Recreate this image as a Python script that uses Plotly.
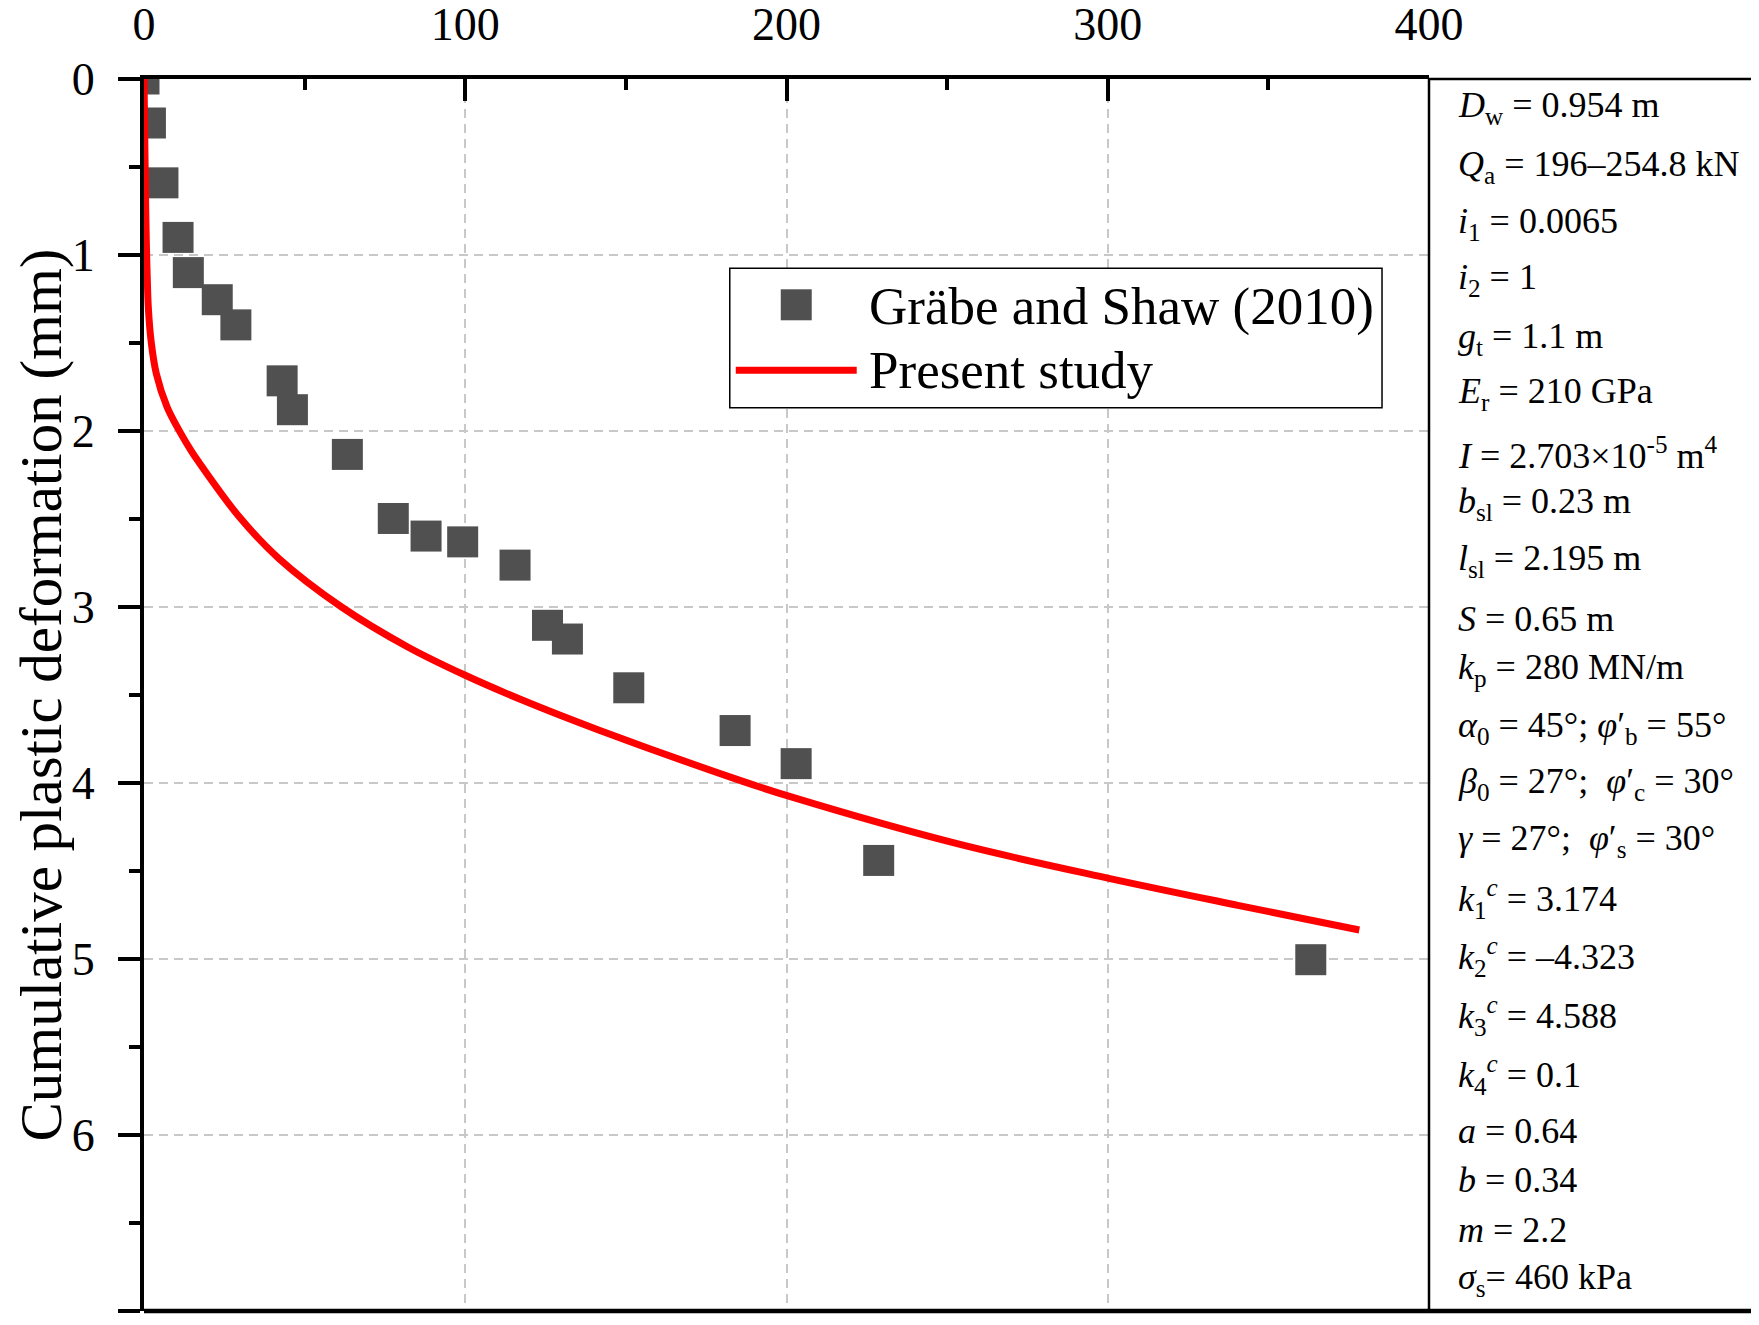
import plotly.graph_objects as go

# ---------------- data ----------------
# Gräbe and Shaw (2010) measurements
exp_cycles = [0, 2.0, 5.9, 10.6, 13.8, 22.8, 28.6, 43.0, 46.2, 63.3, 77.6, 87.8, 99.2,
              115.5, 125.6, 131.8, 150.9, 184.0, 203.0, 228.7, 363.2]
exp_deform = [0.0, 0.25, 0.59, 0.90, 1.10, 1.254, 1.397, 1.715, 1.879, 2.133, 2.497,
              2.597, 2.630, 2.762, 3.104, 3.182, 3.459, 3.702, 3.890, 4.440, 5.004]

# Present study (curve)
model_cycles = [0, 0.25, 0.5, 0.75, 1.0, 1.34, 2.18, 3.83, 7.2, 11.5, 14.6, 16.6,
                29.7, 42.0, 61.5, 82.1, 100.0, 117.9, 141.7, 185.5, 200.7, 253.1,
                300.7, 340.5, 378.3]
model_deform = [0.0, 0.35, 0.7, 0.95, 1.12, 1.295, 1.485, 1.674, 1.864, 2.015, 2.11, 2.165,
                2.489, 2.725, 3.0, 3.227, 3.388, 3.53, 3.70, 3.985, 4.075, 4.345,
                4.543, 4.695, 4.835]

x_tick_vals = [0, 100, 200, 300, 400]
y_tick_vals = [0, 1, 2, 3, 4, 5, 6, 7]

y_title = "Cumulative plastic deformation (mm)"
legend_labels = ["Gräbe and Shaw (2010)", "Present study"]

param_labels = [
    "<i>D</i><sub>w</sub> = 0.954 m",
    "<i>Q</i><sub>a</sub> = 196–254.8 kN",
    "<i>i</i><sub>1</sub> = 0.0065",
    "<i>i</i><sub>2</sub> = 1",
    "<i>g</i><sub>t</sub> = 1.1 m",
    "<i>E</i><sub>r</sub> = 210 GPa",
    "<i>I</i> = 2.703×10<sup>-5</sup> m<sup>4</sup>",
    "<i>b</i><sub>sl</sub> = 0.23 m",
    "<i>l</i><sub>sl</sub> = 2.195 m",
    "<i>S</i> = 0.65 m",
    "<i>k</i><sub>p</sub> = 280 MN/m",
    "<i>α</i><sub>0</sub> = 45°; <i>φ</i>′<sub>b</sub> = 55°",
    "<i>β</i><sub>0</sub> = 27°;  <i>φ</i>′<sub>c</sub> = 30°",
    "<i>γ</i> = 27°;  <i>φ</i>′<sub>s</sub> = 30°",
    "<i>k</i><sub>1</sub><sup><i>c</i></sup> = 3.174",
    "<i>k</i><sub>2</sub><sup><i>c</i></sup> = –4.323",
    "<i>k</i><sub>3</sub><sup><i>c</i></sup> = 4.588",
    "<i>k</i><sub>4</sub><sup><i>c</i></sup> = 0.1",
    "<i>a</i> = 0.64",
    "<i>b</i> = 0.34",
    "<i>m</i> = 2.2",
    "<i>σ</i><sub>s</sub>= 460 kPa",
]

# ---------------- layout constants ----------------
OFF = 8  # page body margin
PAGE_W, PAGE_H = 1759, 1325
W, H = PAGE_W - OFF, PAGE_H - OFF
# plot area in page pixels
PL, PR, PT, PB = 144, 1429.5, 78.7, 1310.7
ML, MT = PL - OFF, PT - OFF
MR, MB = W - (PR - OFF), H - (PB - OFF)
PW, PH = PR - PL, PB - PT
FONT = "Liberation Serif, Times New Roman, serif"

panel_line_y_px = [107.7, 166, 222.7, 279.3, 337.7, 393.5, 453.5, 503.5, 560, 618.5,
                   669.3, 726.7, 783.3, 840, 898.3, 956.7, 1016, 1074.3, 1131, 1179.3,
                   1229.3, 1279.3]


def px(x):
    """page pixel x -> paper coordinate"""
    return (x - PL) / PW


def py(y):
    """page pixel y -> paper coordinate"""
    return 1 - (y - PT) / PH


fig = go.Figure()
fig.add_trace(go.Scatter(
    x=exp_cycles, y=exp_deform, mode="markers", name=legend_labels[0],
    marker=dict(symbol="square", size=31, color="#505050", line=dict(width=0)),
    showlegend=False, cliponaxis=True,
))
fig.add_trace(go.Scatter(
    x=model_cycles, y=model_deform, mode="lines", name=legend_labels[1],
    line=dict(color="#ff0000", width=7, shape="spline", smoothing=1.0),
    showlegend=False,
))

axis_common = dict(
    showline=True, linecolor="black", linewidth=4,
    tickwidth=4, tickcolor="black", ticklen=22,
    tickfont=dict(family=FONT, size=46, color="black"),
    showgrid=True, gridcolor="#c8c8c8", gridwidth=1.5, griddash="9px,6px",
    zeroline=False,
)

fig.update_xaxes(
    **axis_common, side="top", range=[0, 400], tickvals=x_tick_vals,
    ticks="inside", ticklabelstandoff=17,
    minor=dict(dtick=50, ticks="inside", ticklen=11, tickwidth=4, tickcolor="black",
               showgrid=False),
)
fig.update_yaxes(
    **axis_common, range=[7, 0], tickvals=y_tick_vals, ticks="outside",
    ticklabelstandoff=14,
    minor=dict(dtick=0.5, ticks="outside", ticklen=11, tickwidth=4, tickcolor="black",
               showgrid=False),
    title=dict(text=y_title, font=dict(family=FONT, size=59, color="black"), standoff=8),
)

shapes = [
    # right panel border
    dict(type="line", xref="paper", yref="paper", x0=1, x1=1, y0=0, y1=1,
         line=dict(color="black", width=2.5)),
    dict(type="line", xref="paper", yref="paper", x0=1, x1=px(PAGE_W + 20), y0=1, y1=1,
         line=dict(color="black", width=2.5)),
    dict(type="line", xref="paper", yref="paper", x0=0, x1=px(PAGE_W + 20), y0=0, y1=0,
         line=dict(color="black", width=4.5)),
    # legend box
    dict(type="rect", xref="paper", yref="paper", x0=px(730), x1=px(1382.5),
         y0=py(407.5), y1=py(268), line=dict(color="black", width=1.5),
         fillcolor="white", layer="above"),
    dict(type="rect", xref="paper", yref="paper", x0=px(796.5 - 15.5), x1=px(796.5 + 15.5),
         y0=py(304.5 + 15.5), y1=py(304.5 - 15.5), line=dict(width=0),
         fillcolor="#505050", layer="above"),
    dict(type="line", xref="paper", yref="paper", x0=px(736), x1=px(857),
         y0=py(370), y1=py(370), line=dict(color="#ff0000", width=7), layer="above"),
]

annotations = []
for lbl, yc in zip(legend_labels, [306, 370]):
    annotations.append(dict(
        text=lbl, xref="paper", yref="paper", x=px(867), y=py(yc),
        xanchor="left", yanchor="middle", showarrow=False,
        font=dict(family=FONT, size=53, color="black"),
    ))
for lbl, yc in zip(param_labels, panel_line_y_px):
    annotations.append(dict(
        text=lbl, xref="paper", yref="paper", x=px(1457), y=py(yc),
        xanchor="left", yanchor="middle", showarrow=False,
        font=dict(family=FONT, size=36, color="black"),
    ))

fig.update_layout(
    width=W, height=H,
    margin=dict(l=ML, r=MR, t=MT, b=MB, autoexpand=False),
    paper_bgcolor="white", plot_bgcolor="white",
    shapes=shapes, annotations=annotations, showlegend=False,
)

fig.write_html("out.html")
